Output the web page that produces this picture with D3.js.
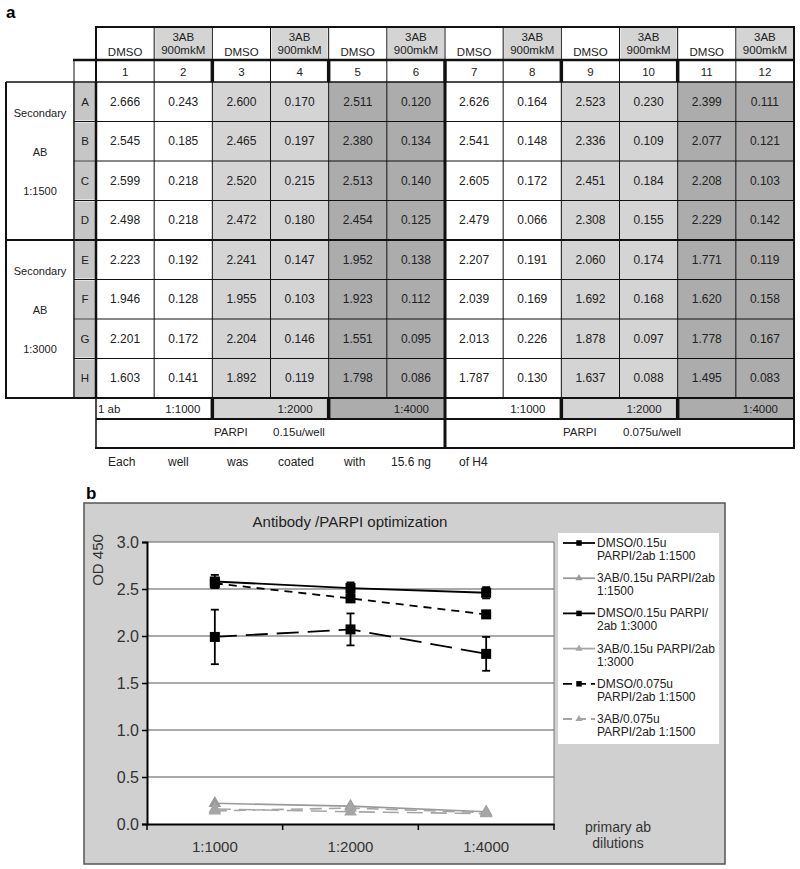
<!DOCTYPE html>
<html>
<head>
<meta charset="utf-8">
<script src="https://cdn.jsdelivr.net/npm/d3@7"></script>
<style>
  body { margin: 0; background: #fff; }
  text { font-family: Arial, "Liberation Sans", Helvetica, sans-serif; }
</style>
</head>
<body>
<div id="figure"></div>
<script>
// ---------- data: panel a (plate readings) ----------
const treatments = ["DMSO", "3AB"];
const colNumbers = [1, 2, 3, 4, 5, 6, 7, 8, 9, 10, 11, 12];
const rowLetters = ["A", "B", "C", "D", "E", "F", "G", "H"];
const rowA = ["2.666", "0.243", "2.600", "0.170", "2.511", "0.120", "2.626", "0.164", "2.523", "0.230", "2.399", "0.111"];
const rowB = ["2.545", "0.185", "2.465", "0.197", "2.380", "0.134", "2.541", "0.148", "2.336", "0.109", "2.077", "0.121"];
const rowC = ["2.599", "0.218", "2.520", "0.215", "2.513", "0.140", "2.605", "0.172", "2.451", "0.184", "2.208", "0.103"];
const rowD = ["2.498", "0.218", "2.472", "0.180", "2.454", "0.125", "2.479", "0.066", "2.308", "0.155", "2.229", "0.142"];
const rowE = ["2.223", "0.192", "2.241", "0.147", "1.952", "0.138", "2.207", "0.191", "2.060", "0.174", "1.771", "0.119"];
const rowF = ["1.946", "0.128", "1.955", "0.103", "1.923", "0.112", "2.039", "0.169", "1.692", "0.168", "1.620", "0.158"];
const rowG = ["2.201", "0.172", "2.204", "0.146", "1.551", "0.095", "2.013", "0.226", "1.878", "0.097", "1.778", "0.167"];
const rowH = ["1.603", "0.141", "1.892", "0.119", "1.798", "0.086", "1.787", "0.130", "1.637", "0.088", "1.495", "0.083"];
const plateRows = [rowA, rowB, rowC, rowD, rowE, rowF, rowG, rowH];
const secondaryLabels = [["Secondary", "AB", "1:1500"], ["Secondary", "AB", "1:3000"]];
const primaryDilutions = ["1:1000", "1:2000", "1:4000", "1:1000", "1:2000", "1:4000"];
const parpiLabels = [["PARPI", "0.15u/well"], ["PARPI", "0.075u/well"]];
const noteWords = ["Each", "well", "was", "coated", "with", "15.6 ng", "of H4"];

// ---------- data: panel b (means and error bars) ----------
const dilutions = ["1:1000", "1:2000", "1:4000"];
const dmso015_1500 = [2.58, 2.51, 2.46];
const dmso015_1500_err = [0.07, 0.06, 0.06];
const ab015_1500 = [0.22, 0.19, 0.13];
const dmso015_3000 = [1.99, 2.07, 1.81];
const dmso015_3000_err = [0.29, 0.17, 0.18];
const ab015_3000 = [0.16, 0.13, 0.11];
const dmso0075_1500 = [2.56, 2.40, 2.23];
const ab0075_1500 = [0.14, 0.17, 0.12];
const seriesNames = [
  ["DMSO/0.15u", "PARPI/2ab 1:1500"],
  ["3AB/0.15u PARPI/2ab", "1:1500"],
  ["DMSO/0.15u PARPI/", "2ab 1:3000"],
  ["3AB/0.15u PARPI/2ab", "1:3000"],
  ["DMSO/0.075u", "PARPI/2ab 1:1500"],
  ["3AB/0.075u", "PARPI/2ab 1:1500"]
];

const svg = d3.select("#figure").append("svg")
    .attr("width", 800)
    .attr("height", 869);

// ================= panel a =================
svg.append("text").attr("x", 6).attr("y", 18)
  .attr("font-size", 17).attr("font-weight", "bold").text("a");

const colX = d3.scaleLinear().domain([0, 12]).range([96, 794]);
const rowY = d3.scaleLinear().domain([0, 8]).range([82, 398]);
const cw = colX(1) - colX(0);
const rh = rowY(1) - rowY(0);
const light = "#d4d4d4", dark = "#acacac", letterGray = "#c6c6c6";
const pairFill = i => [null, light, dark][Math.floor(i / 2) % 3];

const tbl = svg.append("g");

// header fills
tbl.selectAll("rect.hdr")
  .data(colNumbers)
  .enter().append("rect")
    .attr("x", (d, i) => colX(i) + 1)
    .attr("y", 27)
    .attr("width", cw - 2)
    .attr("height", 32)
    .attr("fill", (d, i) => i % 2 ? light : "#fff");

// data fills
plateRows.forEach((row, r) => {
  tbl.selectAll("rect.r" + r)
    .data(row)
    .enter().append("rect")
      .attr("x", (d, i) => colX(i))
      .attr("y", rowY(r))
      .attr("width", cw)
      .attr("height", rh)
      .attr("fill", (d, i) => pairFill(i) || "#fff");
});

// letter cells
tbl.selectAll("rect.letter")
  .data(rowLetters)
  .enter().append("rect")
    .attr("x", 75)
    .attr("y", (d, i) => rowY(i) + 1)
    .attr("width", 20)
    .attr("height", rh - 2)
    .attr("fill", letterGray);

// dilution row fills
tbl.selectAll("rect.dil")
  .data(primaryDilutions)
  .enter().append("rect")
    .attr("x", (d, i) => colX(i * 2))
    .attr("y", 398)
    .attr("width", cw * 2)
    .attr("height", 21)
    .attr("fill", (d, i) => [null, light, dark][i % 3] || "#fff");

// header text
colNumbers.forEach((n, i) => {
  const cx = colX(i) + cw / 2;
  if (i % 2 === 0) {
    tbl.append("text").attr("x", cx).attr("y", 56).attr("text-anchor", "middle")
      .attr("font-size", 11.5).attr("fill", "#222").text(treatments[0]);
  } else {
    tbl.append("text").attr("x", cx).attr("y", 41).attr("text-anchor", "middle")
      .attr("font-size", 11.5).attr("fill", "#222").text(treatments[1]);
    tbl.append("text").attr("x", cx).attr("y", 54).attr("text-anchor", "middle")
      .attr("font-size", 11.5).attr("fill", "#222").text("900mkM");
  }
  tbl.append("text").attr("x", cx).attr("y", 76).attr("text-anchor", "middle")
    .attr("font-size", 11.5).attr("fill", "#222").text(n);
});

// values
plateRows.forEach((row, r) => {
  tbl.selectAll("text.v" + r)
    .data(row)
    .enter().append("text")
      .attr("x", (d, i) => colX(i) + cw / 2)
      .attr("y", rowY(r) + rh / 2 + 4)
      .attr("text-anchor", "middle")
      .attr("font-size", 12)
      .attr("fill", "#222")
      .text(d => d);
});

// letters
tbl.selectAll("text.letter")
  .data(rowLetters)
  .enter().append("text")
    .attr("x", 85)
    .attr("y", (d, i) => rowY(i) + rh / 2 + 4)
    .attr("text-anchor", "middle")
    .attr("font-size", 11.5)
    .attr("fill", "#222")
    .text(d => d);

// secondary AB labels
secondaryLabels.forEach((lbl, g) => {
  lbl.forEach((t, k) => {
    tbl.append("text")
      .attr("x", 40)
      .attr("y", rowY(g * 4) + 35 + k * 39)
      .attr("text-anchor", "middle")
      .attr("font-size", 11)
      .attr("fill", "#222")
      .text(t);
  });
});

// dilution texts
tbl.append("text").attr("x", 98).attr("y", 413).attr("font-size", 11.5).attr("fill", "#222").text("1 ab");
tbl.selectAll("text.dil")
  .data(primaryDilutions)
  .enter().append("text")
    .attr("x", (d, i) => colX(i * 2 + 2) - (i === 0 ? 12 : 16))
    .attr("y", 413)
    .attr("text-anchor", "end")
    .attr("font-size", 11.5)
    .attr("fill", "#222")
    .text(d => d);

// PARPI row
parpiLabels.forEach((p, i) => {
  const x0 = colX(i * 6);
  tbl.append("text").attr("x", x0 + 118).attr("y", 436)
    .attr("font-size", 11.5).attr("fill", "#222").text(p[0]);
  tbl.append("text").attr("x", x0 + (i ? 178 : 177)).attr("y", 436)
    .attr("font-size", 11.5).attr("fill", "#222").text(p[1]);
});

// grid lines
function seg(x1, y1, x2, y2, w) {
  tbl.append("line").attr("x1", x1).attr("y1", y1).attr("x2", x2).attr("y2", y2)
    .attr("stroke", "#111").attr("stroke-width", w);
}
const thickCols = [2, 4, 6, 8, 10];
// header
seg(95, 27, 795, 27, 2);
d3.range(0, 13).forEach(i => seg(colX(i), 27, colX(i), 60, (i === 0 || i === 12) ? 2 : 1));
seg(73, 60, 795, 60, 2.5);
// number row
seg(74, 60, 74, 82, 1);
d3.range(0, 13).forEach(i => seg(colX(i), 60, colX(i), 82,
  thickCols.includes(i) ? 3.5 : (i === 0 || i === 12 ? 2 : 1)));
seg(6, 82, 795, 82, 1.5);
// data rows
d3.range(1, 8).forEach(r => {
  if (r === 4) seg(5, rowY(r), 795, rowY(r), 2);
  else seg(74, rowY(r), 795, rowY(r), 1);
});
seg(5, 398, 795, 398, 2);
seg(6, 82, 6, 398, 2);
seg(74, 82, 74, 398, 1.5);
seg(96, 82, 96, 398, 2.5);
d3.range(1, 12).forEach(i => seg(colX(i), 82, colX(i), 398, i === 6 ? 3 : 1));
seg(794, 27, 794, 448, 2);
// dilution row
seg(96, 398, 96, 448, 1.5);
thickCols.forEach(i => seg(colX(i), 398, colX(i), 419, i === 6 ? 3 : 3.5));
seg(96, 419, 795, 419, 2);
seg(colX(6), 419, colX(6), 448, 3);
seg(95, 448, 795, 448, 2);

// note
const noteX = [108, 168, 227, 278, 344, 391, 459];
tbl.selectAll("text.note")
  .data(noteWords)
  .enter().append("text")
    .attr("x", (d, i) => noteX[i])
    .attr("y", 466)
    .attr("font-size", 12)
    .attr("fill", "#222")
    .text(d => d);

// ================= panel b =================
svg.append("text").attr("x", 86).attr("y", 499)
  .attr("font-size", 17).attr("font-weight", "bold").text("b");

const chart = svg.append("g");
chart.append("rect")
  .attr("x", 84).attr("y", 503).attr("width", 641).attr("height", 361)
  .attr("fill", "#d0d0d0").attr("stroke", "#555").attr("stroke-width", 1.5);

const x = d3.scaleBand().domain(dilutions).range([147, 554]);
const y = d3.scaleLinear().domain([0, 3]).range([824, 542]);
const cx = d => x(d) + x.bandwidth() / 2;

// plot area
chart.append("rect")
  .attr("x", 147).attr("y", y(3)).attr("width", 554 - 147).attr("height", y(0) - y(3))
  .attr("fill", "#fff");

// horizontal grid
chart.append("g")
  .selectAll("line")
  .data(y.ticks(6).filter(d => d > 0))
  .enter().append("line")
    .attr("x1", 147).attr("x2", 554)
    .attr("y1", d => y(d)).attr("y2", d => y(d))
    .attr("stroke", "#8e8e8e").attr("stroke-width", 1.5);
chart.append("line").attr("x1", 554).attr("x2", 554).attr("y1", y(3)).attr("y2", y(0))
  .attr("stroke", "#777").attr("stroke-width", 1);

// title
chart.append("text").attr("x", 350).attr("y", 527).attr("text-anchor", "middle")
  .attr("font-size", 15).attr("fill", "#222").text("Antibody /PARPI optimization");

// y axis
const yAxis = chart.append("g")
  .attr("transform", "translate(147,0)")
  .call(d3.axisLeft(y).tickValues(d3.range(0, 3.01, 0.5)).tickFormat(d3.format(".1f")).tickSize(5).tickPadding(3));
yAxis.selectAll("text").attr("font-size", 16).attr("fill", "#333")
  .attr("font-family", "Arial, 'Liberation Sans', sans-serif");
yAxis.selectAll("line").attr("stroke", "#000").attr("stroke-width", 1.5);
yAxis.select(".domain").attr("stroke", "#000").attr("stroke-width", 2);

chart.append("text")
  .attr("transform", "translate(103,560) rotate(-90)")
  .attr("text-anchor", "middle")
  .attr("font-size", 15).attr("fill", "#333").text("OD 450");

// x axis
const xAxis = chart.append("g")
  .attr("transform", "translate(0,824)")
  .call(d3.axisBottom(x).tickSize(0).tickPadding(17));
xAxis.selectAll("text").attr("font-size", 15).attr("fill", "#333")
  .attr("font-family", "Arial, 'Liberation Sans', sans-serif");
xAxis.select(".domain").attr("stroke", "#000").attr("stroke-width", 2);
chart.append("g")
  .selectAll("line")
  .data(d3.range(0, dilutions.length + 1))
  .enter().append("line")
    .attr("x1", i => 147 + i * x.bandwidth()).attr("x2", i => 147 + i * x.bandwidth())
    .attr("y1", 824).attr("y2", 830)
    .attr("stroke", "#000").attr("stroke-width", 1.5);

chart.append("text").attr("x", 618).attr("y", 832).attr("text-anchor", "middle")
  .attr("font-size", 14).attr("fill", "#333").text("primary ab");
chart.append("text").attr("x", 618).attr("y", 848).attr("text-anchor", "middle")
  .attr("font-size", 14).attr("fill", "#333").text("dilutions");

// series
const series = [
  {values: dmso015_1500, err: dmso015_1500_err, color: "#000", dash: null, legendDash: null, mark: "square"},
  {values: ab015_1500, err: null, color: "#9a9a9a", dash: null, legendDash: null, mark: "triangle"},
  {values: dmso015_3000, err: dmso015_3000_err, color: "#000", dash: "22,9", legendDash: null, mark: "square"},
  {values: ab015_3000, err: null, color: "#a5a5a5", dash: "16,8", legendDash: null, mark: "triangle"},
  {values: dmso0075_1500, err: null, color: "#000", dash: "8,6", legendDash: "9,5", mark: "square"},
  {values: ab0075_1500, err: null, color: "#a5a5a5", dash: "12,7", legendDash: "9,5", mark: "triangle"}
];

const line = d3.line().x((d, i) => cx(dilutions[i])).y(d => y(d));
const sq = d3.symbol().type(d3.symbolSquare).size(100);
const tri = d3.symbol().type(d3.symbolTriangle).size(70);

const plot = chart.append("g");
// draw gray series first, black on top
[1, 3, 5, 0, 4, 2].forEach(k => {
  const s = series[k];
  plot.append("path")
    .attr("d", line(s.values))
    .attr("fill", "none")
    .attr("stroke", s.color)
    .attr("stroke-width", s.color === "#000" ? 1.8 : 1.6)
    .attr("stroke-dasharray", s.dash);
  if (s.err) {
    s.values.forEach((v, i) => {
      const px = cx(dilutions[i]);
      const g = plot.append("g").attr("stroke", "#000").attr("stroke-width", 1.8);
      g.append("line").attr("x1", px).attr("x2", px).attr("y1", y(v - s.err[i])).attr("y2", y(v + s.err[i]));
      g.append("line").attr("x1", px - 4).attr("x2", px + 4).attr("y1", y(v - s.err[i])).attr("y2", y(v - s.err[i]));
      g.append("line").attr("x1", px - 4).attr("x2", px + 4).attr("y1", y(v + s.err[i])).attr("y2", y(v + s.err[i]));
    });
  }
  plot.selectAll("path.m" + k)
    .data(s.values)
    .enter().append("path")
      .attr("transform", (d, i) => "translate(" + cx(dilutions[i]) + "," + y(d) + ")")
      .attr("d", s.mark === "square" ? sq : tri)
      .attr("fill", s.color);
});

// legend
const legend = chart.append("g");
legend.append("rect").attr("x", 558).attr("y", 533).attr("width", 161).attr("height", 211).attr("fill", "#fff");
seriesNames.forEach((name, k) => {
  const s = series[k];
  const ly = 543 + k * 35.2;
  legend.append("line")
    .attr("x1", 563).attr("x2", 595).attr("y1", ly).attr("y2", ly)
    .attr("stroke", s.color).attr("stroke-width", 1.8)
    .attr("stroke-dasharray", s.legendDash);
  legend.append("path")
    .attr("transform", "translate(579," + ly + ")")
    .attr("d", s.mark === "square" ? d3.symbol().type(d3.symbolSquare).size(30) : d3.symbol().type(d3.symbolTriangle).size(22))
    .attr("fill", s.color);
  name.forEach((t, j) => {
    legend.append("text")
      .attr("x", 597).attr("y", ly + 4 + j * 13)
      .attr("font-size", 12).attr("fill", "#222").text(t);
  });
});
</script>
</body>
</html>
